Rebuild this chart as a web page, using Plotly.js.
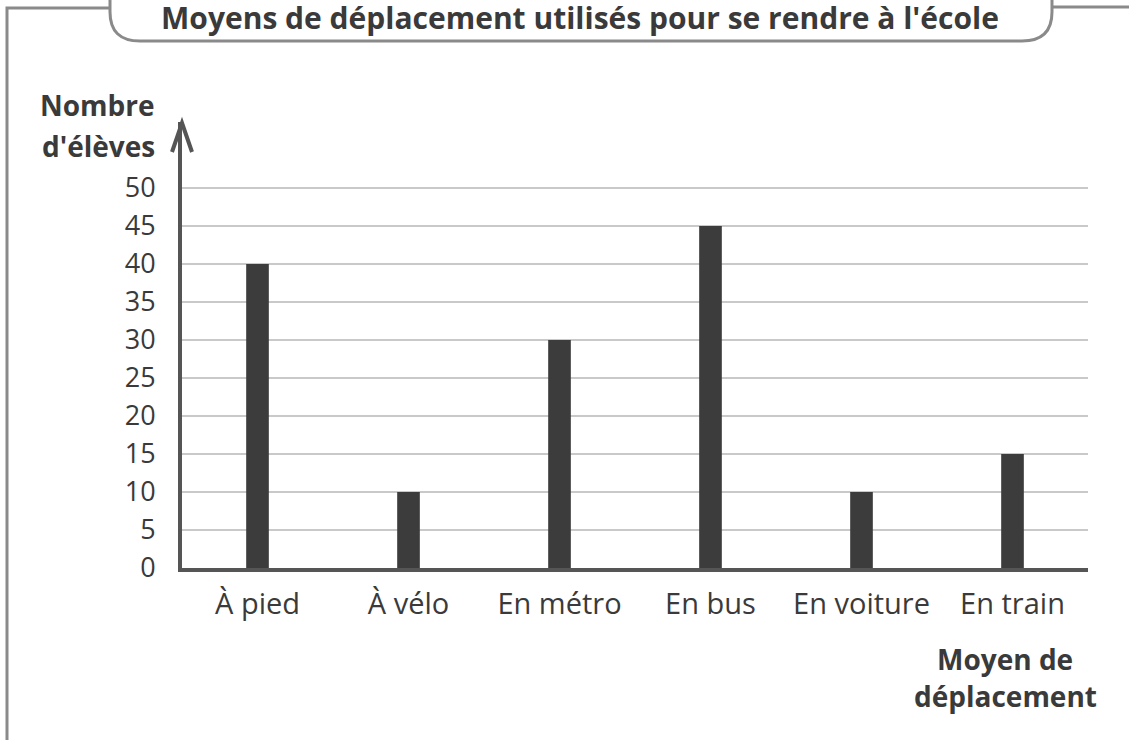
<!DOCTYPE html>
<html>
<head>
<meta charset="utf-8">
<script src="https://cdn.plot.ly/plotly-3.0.1.min.js"></script>
<style>html,body{margin:0;padding:0;background:#fff;}</style>
</head>
<body>
<div id="chart" style="width:1129px;height:740px;"></div>
<script>
const categories = ["À pied", "À vélo", "En métro", "En bus", "En voiture", "En train"];
const eleves = [40, 10, 30, 45, 10, 15];
const yTicks = [0, 5, 10, 15, 20, 25, 30, 35, 40, 45, 50];
const chartTitle = "Moyens de déplacement utilisés pour se rendre à l'école";
const yTitleLines = ["Nombre", "d'élèves"];
const xTitleLines = ["Moyen de", "déplacement"];

const W = 1129, H = 740;
const L = 182, R = 1088, T = 122, B = 568;
const px = x => (x - L) / (R - L);
const py = y => (B - y) / (B - T);
const P = (x, y) => px(x).toFixed(5) + " " + py(y).toFixed(5);

const FONT = "Open Sans, Noto Sans, sans-serif";
const frameColor = "#8a8a8a";
const textColor = "#3a3a3a";

const trace = {
  type: "bar",
  x: categories,
  y: eleves,
  width: 0.15,
  marker: {color: "#3c3c3c"},
  hoverinfo: "x+y"
};

const titleAnn = (lines, xc, ycs, anchor) => lines.map((t, i) => ({
  text: t, xref: "paper", yref: "paper", x: px(xc), y: py(ycs[i]),
  xanchor: anchor, yanchor: "middle", align: anchor, showarrow: false,
  font: {family: FONT, size: 28, color: textColor, weight: "bold"}
}));

const layout = {
  width: W, height: H,
  margin: {l: L, r: W - R, t: T, b: H - B},
  paper_bgcolor: "#fff",
  plot_bgcolor: "#fff",
  showlegend: false,
  title: {
    text: chartTitle,
    font: {family: FONT, size: 30, color: textColor, weight: "bold"},
    x: px(580), xanchor: "center", xref: "paper",
    y: 1 - 18 / H, yanchor: "middle", yref: "container"
  },
  xaxis: {
    type: "category",
    showline: true, linewidth: 4, linecolor: "#555",
    showgrid: false, zeroline: false,
    ticks: "outside", ticklen: 7, tickcolor: "rgba(0,0,0,0)",
    tickfont: {family: FONT, size: 29, color: textColor},
    fixedrange: true
  },
  yaxis: {
    range: [0, (B - T) / 7.6],
    tickvals: yTicks,
    ticktext: yTicks.map(String),
    showline: true, linewidth: 4, linecolor: "#555",
    showgrid: true, gridcolor: "#c9c9c9", gridwidth: 2,
    zeroline: false,
    ticks: "outside", ticklen: 17, tickcolor: "rgba(0,0,0,0)",
    tickfont: {family: FONT, size: 27, color: textColor},
    fixedrange: true
  },
  shapes: [
    {type: "path", xref: "paper", yref: "paper",
     path: "M " + P(7, 750) + " L " + P(7, 8) + " L " + P(110, 8),
     line: {color: frameColor, width: 3}},
    {type: "path", xref: "paper", yref: "paper",
     path: "M " + P(110, -5) + " L " + P(110, 12) + " Q " + P(110, 41) + " " + P(140, 41) +
           " L " + P(1022, 41) + " Q " + P(1052, 41) + " " + P(1052, 12) + " L " + P(1052, -5),
     line: {color: frameColor, width: 3}},
    {type: "path", xref: "paper", yref: "paper",
     path: "M " + P(1052, 7) + " L " + P(1140, 7),
     line: {color: frameColor, width: 3}},
    {type: "path", xref: "paper", yref: "paper",
     path: "M " + P(172, 152) + " L " + P(182, 123) + " L " + P(192, 152),
     line: {color: "#555", width: 4}}
  ],
  annotations: [].concat(
    titleAnn(yTitleLines, 157, [105, 146], "right"),
    titleAnn(xTitleLines, 1005, [659, 696], "center")
  )
};

Plotly.newPlot("chart", [trace], layout, {displayModeBar: false, staticPlot: true});
</script>
</body>
</html>
